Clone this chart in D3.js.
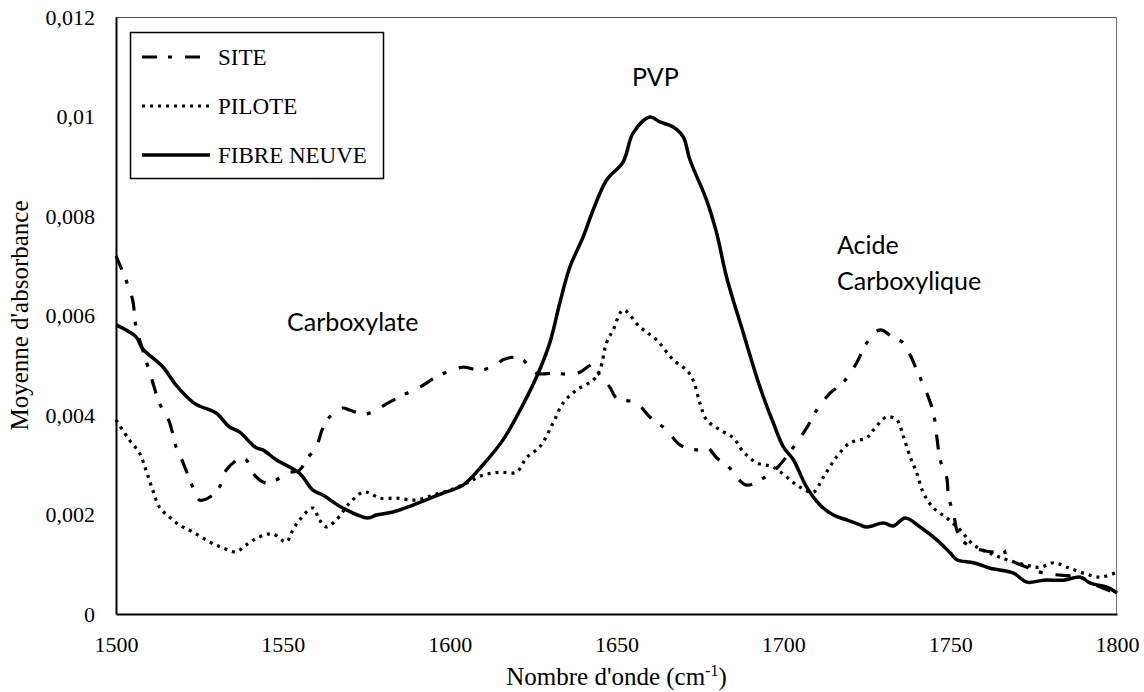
<!DOCTYPE html>
<html>
<head>
<meta charset="utf-8">
<script src="https://cdn.jsdelivr.net/npm/d3@7"></script>
<style>
  body { margin: 0; background: #fff; }
  svg { display: block; }
</style>
</head>
<body>
<div id="chart"></div>
<script>
// --- data ---
const seriesNames = ['SITE', 'PILOTE', 'FIBRE NEUVE'];

const siteX = [1500, 1503, 1505, 1506, 1508, 1511, 1513, 1516, 1518, 1520, 1523, 1525, 1529, 1531, 1533, 1537, 1539, 1541, 1545, 1548, 1551, 1555, 1557, 1560, 1562, 1564, 1568, 1570, 1575, 1582, 1586, 1591, 1597, 1604, 1609, 1614, 1616, 1621, 1626, 1631, 1637, 1639, 1643, 1645, 1648, 1650, 1656, 1660, 1665, 1669, 1674, 1677, 1680, 1684, 1686, 1689, 1694, 1698, 1702, 1707, 1710, 1714, 1718, 1722, 1725, 1729, 1733, 1736, 1738, 1740, 1743, 1745, 1746, 1747, 1749, 1749.5, 1751, 1752, 1754, 1759, 1763, 1766, 1767, 1773, 1778, 1783, 1789, 1795, 1800];
const siteY = [7.2, 6.71, 6.31, 5.77, 5.31, 4.66, 4.24, 3.86, 3.36, 3.06, 2.55, 2.29, 2.39, 2.55, 2.89, 3.12, 3.10, 2.83, 2.63, 2.69, 2.83, 2.89, 3.10, 3.36, 3.74, 3.96, 4.14, 4.10, 4.02, 4.26, 4.40, 4.56, 4.80, 4.96, 4.90, 5.01, 5.11, 5.15, 4.84, 4.84, 4.82, 4.86, 5.01, 4.80, 4.56, 4.34, 4.24, 3.96, 3.70, 3.40, 3.30, 3.36, 3.14, 2.93, 2.75, 2.59, 2.73, 2.93, 3.26, 3.74, 4.10, 4.44, 4.66, 5.05, 5.45, 5.71, 5.55, 5.45, 5.21, 4.90, 4.44, 4.04, 3.56, 3.10, 2.73, 2.35, 2.03, 1.69, 1.45, 1.29, 1.25, 1.29, 1.13, 0.94, 0.82, 0.78, 0.74, 0.54, 0.42];

const piloteX = [1500, 1504, 1507, 1509, 1511, 1513, 1516, 1519, 1523, 1528, 1532, 1536, 1539, 1543, 1547, 1551, 1553, 1555, 1559, 1561, 1563, 1566, 1570, 1574, 1576, 1579, 1584, 1590, 1595, 1600, 1605, 1610, 1615, 1620, 1623, 1627, 1631, 1634, 1638, 1643, 1645, 1647, 1649, 1652, 1657, 1662, 1667, 1671, 1673, 1675, 1677, 1681, 1685, 1688, 1692, 1697, 1705, 1709, 1712, 1716, 1720, 1725, 1727, 1731, 1734, 1736, 1738, 1740, 1742, 1745, 1749, 1753, 1757, 1763, 1767, 1773, 1777, 1781, 1785, 1790, 1795, 1800];
const piloteY = [3.9, 3.50, 3.24, 2.89, 2.49, 2.15, 1.95, 1.79, 1.65, 1.45, 1.33, 1.25, 1.39, 1.55, 1.61, 1.45, 1.69, 1.89, 2.13, 1.89, 1.75, 1.89, 2.23, 2.45, 2.43, 2.33, 2.33, 2.29, 2.39, 2.49, 2.63, 2.79, 2.85, 2.85, 3.14, 3.36, 3.84, 4.24, 4.50, 4.70, 4.90, 5.45, 5.71, 6.11, 5.77, 5.51, 5.11, 4.90, 4.70, 4.24, 3.90, 3.70, 3.54, 3.26, 3.04, 2.95, 2.55, 2.45, 2.75, 3.16, 3.44, 3.54, 3.70, 3.96, 3.90, 3.56, 3.16, 2.83, 2.43, 2.13, 1.93, 1.69, 1.39, 1.19, 1.09, 0.98, 0.94, 1.03, 0.94, 0.82, 0.74, 0.84];

const fibreX = [1500, 1506, 1508, 1514, 1518, 1523, 1525, 1530, 1534, 1537, 1542, 1544, 1548, 1555, 1559, 1562, 1568, 1575.5, 1578, 1583, 1589, 1598, 1604, 1610, 1616, 1620, 1626, 1630, 1633, 1636, 1640, 1643, 1647, 1652, 1655, 1660, 1663, 1667, 1670, 1672, 1677, 1680, 1683, 1688, 1693, 1697, 1700, 1703, 1707, 1711, 1715, 1719, 1723, 1725, 1730, 1733, 1736.5, 1741, 1746, 1750, 1752, 1757, 1762, 1769, 1773, 1778, 1784, 1789, 1792, 1797, 1800];
const fibreY = [5.81, 5.57, 5.33, 4.97, 4.60, 4.26, 4.18, 4.04, 3.76, 3.66, 3.34, 3.30, 3.10, 2.83, 2.49, 2.39, 2.13, 1.93, 1.99, 2.05, 2.19, 2.43, 2.59, 3.00, 3.50, 3.96, 4.76, 5.45, 6.25, 6.97, 7.58, 8.12, 8.72, 9.09, 9.67, 9.99, 9.89, 9.79, 9.59, 9.13, 8.32, 7.66, 6.77, 5.65, 4.56, 3.84, 3.36, 3.10, 2.55, 2.19, 1.99, 1.89, 1.79, 1.75, 1.83, 1.77, 1.93, 1.75, 1.49, 1.23, 1.09, 1.03, 0.92, 0.82, 0.64, 0.68, 0.68, 0.74, 0.62, 0.54, 0.42];

const xTicks = [1500, 1550, 1600, 1650, 1700, 1750, 1800];
const yTicks = [0, 0.002, 0.004, 0.006, 0.008, 0.01, 0.012];

const annotations = [
    {lines: ['PVP'], x: 632, y: 86},
    {lines: ['Carboxylate'], x: 287, y: 331},
    {lines: ['Acide', 'Carboxylique'], x: 837, y: 254}
];

// --- layout ---
const dimensions = {
    width: 1144,
    height: 692,
    margin: {top: 17, right: 27, bottom: 78, left: 116}
};
dimensions.boundWidth = dimensions.width - dimensions.margin.left - dimensions.margin.right;
dimensions.boundHeight = dimensions.height - dimensions.margin.top - dimensions.margin.bottom;

const serif = '"Liberation Serif", "Times New Roman", serif';
const sans = 'Lato, "Open Sans", sans-serif';

const svg = d3.select('#chart')
    .append('svg')
    .attr('width', dimensions.width)
    .attr('height', dimensions.height);

const bounds = svg.append('g')
    .attr('transform', `translate(${dimensions.margin.left},${dimensions.margin.top})`);

const xScale = d3.scaleLinear().domain([1500, 1800]).range([0, dimensions.boundWidth]);
const yScale = d3.scaleLinear().domain([0, 0.012]).range([dimensions.boundHeight, 0]);

// frame: top/right grey, left/bottom black
bounds.append('line')
    .attr('x1', 0).attr('x2', dimensions.boundWidth)
    .attr('y1', 0.5).attr('y2', 0.5)
    .attr('stroke', '#555').attr('stroke-width', 1);
bounds.append('line')
    .attr('x1', dimensions.boundWidth - 0.5).attr('x2', dimensions.boundWidth - 0.5)
    .attr('y1', 0).attr('y2', dimensions.boundHeight)
    .attr('stroke', '#777').attr('stroke-width', 1);

const commaLocale = d3.formatLocale({decimal: ',', thousands: ' ', grouping: [3], currency: ['', '']});
const yFormat = commaLocale.format('.3~f');

// axes
const xAxis = d3.axisBottom(xScale).tickValues(xTicks).tickSize(0).tickPadding(22).tickFormat(d3.format('d'));
const yAxis = d3.axisLeft(yScale).tickValues(yTicks).tickSize(0).tickPadding(21).tickFormat(yFormat);

const xAxisG = bounds.append('g')
    .attr('transform', `translate(0,${dimensions.boundHeight})`)
    .call(xAxis);
const yAxisG = bounds.append('g').call(yAxis);

[xAxisG, yAxisG].forEach(g => {
    g.selectAll('text')
        .attr('fill', '#000')
        .style('font-family', serif)
        .style('font-size', '22px');
    g.select('.domain')
        .attr('stroke', '#000')
        .attr('stroke-width', 2);
});

// axis titles
const xTitle = svg.append('text')
    .attr('x', dimensions.margin.left + dimensions.boundWidth / 2)
    .attr('y', 685)
    .attr('text-anchor', 'middle')
    .style('font-family', serif)
    .style('font-size', '25px');
xTitle.append('tspan').text("Nombre d'onde (cm");
xTitle.append('tspan').attr('dy', -9).style('font-size', '16px').text('-1');
xTitle.append('tspan').attr('dy', 9).text(')');

svg.append('text')
    .attr('transform', `translate(28,${dimensions.margin.top + dimensions.boundHeight / 2}) rotate(-90)`)
    .attr('text-anchor', 'middle')
    .style('font-family', serif)
    .style('font-size', '25px')
    .text("Moyenne d'absorbance");

// series
const styles = {
    'SITE': {dash: '15,11,4,13', width: 3.2},
    'PILOTE': {dash: '3,5', width: 3.2},
    'FIBRE NEUVE': {dash: null, width: 3.5}
};

const toPoints = (xs, ys) => xs.map((x, i) => [x, ys[i] / 1000]);
const seriesData = [
    {name: 'SITE', points: toPoints(siteX, siteY)},
    {name: 'PILOTE', points: toPoints(piloteX, piloteY)},
    {name: 'FIBRE NEUVE', points: toPoints(fibreX, fibreY)}
];

const lineGen = d3.line()
    .x(d => xScale(d[0]))
    .y(d => yScale(d[1]))
    .curve(d3.curveCatmullRom.alpha(0.5));

bounds.append('g')
    .selectAll('path')
    .data(seriesData)
    .join('path')
    .attr('d', d => lineGen(d.points))
    .attr('fill', 'none')
    .attr('stroke', '#000')
    .attr('stroke-width', d => styles[d.name].width)
    .attr('stroke-dasharray', d => styles[d.name].dash)
    .attr('stroke-linejoin', 'round');

// annotations
annotations.forEach(a => {
    const t = svg.append('text')
        .attr('x', a.x)
        .attr('y', a.y)
        .style('font-family', sans)
        .style('font-size', '25px')
        .attr('fill', '#000');
    a.lines.forEach((line, i) => {
        t.append('tspan').attr('x', a.x).attr('dy', i === 0 ? 0 : 36).text(line);
    });
});

// legend
const legend = svg.append('g');
legend.append('rect')
    .attr('x', 130.5).attr('y', 32.5)
    .attr('width', 253).attr('height', 146)
    .attr('fill', '#fff')
    .attr('stroke', '#000')
    .attr('stroke-width', 1.5);

const legendRows = legend.selectAll('g.row')
    .data(seriesNames)
    .join('g')
    .attr('class', 'row')
    .attr('transform', (d, i) => `translate(0,${57 + i * 49})`);

legendRows.append('line')
    .attr('x1', 142).attr('x2', 210)
    .attr('y1', 0).attr('y2', 0)
    .attr('stroke', '#000')
    .attr('stroke-width', d => styles[d].width)
    .attr('stroke-dasharray', d => styles[d].dash);

legendRows.append('text')
    .attr('x', 218)
    .attr('y', 8)
    .style('font-family', serif)
    .style('font-size', '23px')
    .text(d => d);
</script>
</body>
</html>
